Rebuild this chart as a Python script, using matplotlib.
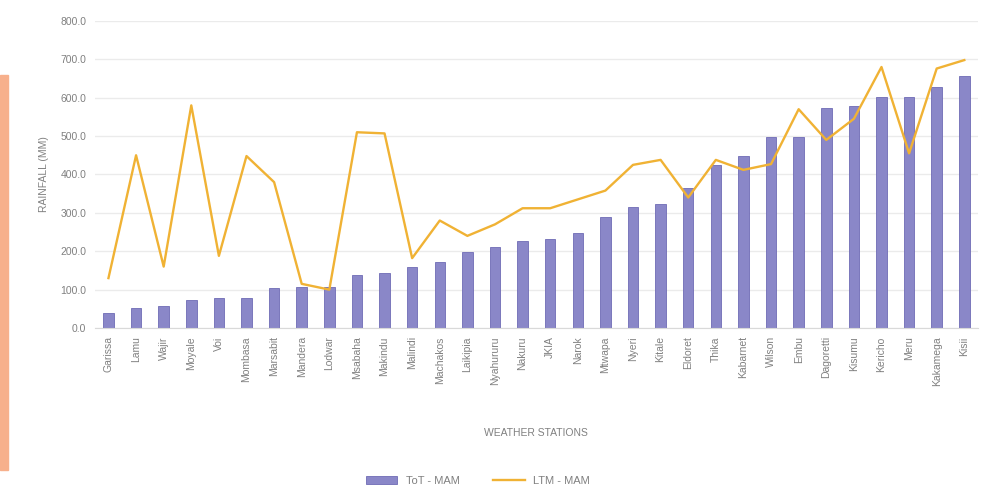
import matplotlib.pyplot as plt
import matplotlib.patches as mpatches
import numpy as np

plt.rcParams['font.family'] = ['Liberation Sans', 'DejaVu Sans']

stations = ["Garissa", "Lamu", "Wajir", "Moyale", "Voi", "Mombasa", "Marsabit", "Mandera",
            "Lodwar", "Msabaha", "Makindu", "Malindi", "Machakos", "Laikipia", "Nyahururu",
            "Nakuru", "JKIA", "Narok", "Mtwapa", "Nyeri", "Kitale", "Eldoret", "Thika",
            "Kabarnet", "Wilson", "Embu", "Dagoretti", "Kisumu", "Kericho", "Meru",
            "Kakamega", "Kisii"]
tot_mam = [38, 52, 57, 72, 78, 78, 105, 106, 106, 138, 143, 158, 172, 198, 212, 226,
           232, 248, 288, 315, 322, 365, 425, 447, 497, 497, 573, 578, 602, 602, 628, 656]
ltm_mam = [130, 450, 160, 580, 188, 448, 380, 115, 100, 510, 507, 182, 280, 240, 270, 312,
           312, 335, 358, 425, 438, 340, 438, 412, 427, 570, 490, 545, 680, 455, 676, 698]

bar_color = "#8a87c8"
line_color = "#f0b234"
text_color = "#808080"

fig = plt.figure(figsize=(9.86, 4.87), dpi=100)
ax = fig.add_axes([0.096, 0.3265, 0.896, 0.6305])

x = np.arange(len(stations))
bars = ax.bar(x, tot_mam, width=0.38, color=bar_color, edgecolor="#6f6bb5", linewidth=0.6,
              zorder=2)
line, = ax.plot(x, ltm_mam, color=line_color, linewidth=1.7, zorder=3)

ax.set_xlim(-0.5, len(stations) - 0.5)
ax.set_ylim(0, 800)
ax.set_yticks(np.arange(0, 801, 100))
ax.set_yticklabels([f"{v:.1f}" for v in np.arange(0, 801, 100)], fontsize=7.5, color=text_color)
ax.set_xticks(x)
ax.set_xticklabels(stations, rotation=90, fontsize=7.5, color=text_color)
ax.tick_params(axis="both", length=0, pad=6)
ax.grid(axis="y", color="#ebebeb", linewidth=1, zorder=0)
for side in ["top", "right", "left"]:
    ax.spines[side].set_visible(False)
ax.spines["bottom"].set_color("#d9d9d9")

ax.set_ylabel("RAINFALL (MM)", fontsize=7.5, color=text_color, labelpad=8)
ax.set_xlabel("WEATHER STATIONS", fontsize=7.5, color=text_color, labelpad=30)

fig.legend([bars, line], ["ToT - MAM", "LTM - MAM"], loc="center",
           bbox_to_anchor=(0.485, 0.012), ncol=2, frameon=False,
           fontsize=8, labelcolor=text_color, handlelength=2.8, columnspacing=3)

# orange strip on the left edge
fig.add_artist(mpatches.Rectangle((0, 0.035), 0.008, 0.81, transform=fig.transFigure,
                                  color="#f7b08c", zorder=0))

fig.savefig("out.png", dpi=100)
